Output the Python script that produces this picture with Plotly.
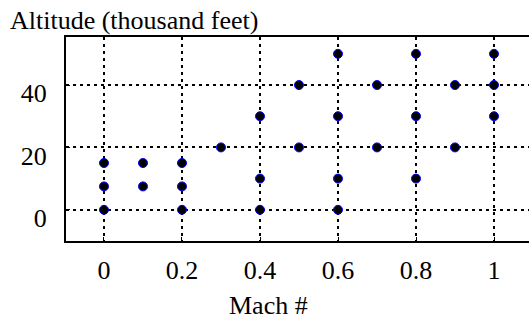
import plotly.graph_objects as go

mach = [0, 0, 0, 0.1, 0.1, 0.2, 0.2, 0.2, 0.3, 0.4, 0.4, 0.4, 0.5, 0.5,
        0.6, 0.6, 0.6, 0.6, 0.7, 0.7, 0.8, 0.8, 0.8, 0.9, 0.9, 1.0, 1.0, 1.0]
altitude = [0, 7.5, 15, 7.5, 15, 0, 7.5, 15, 20, 0, 10, 30, 20, 40,
            0, 10, 30, 50, 20, 40, 10, 30, 50, 20, 40, 30, 40, 50]
x_ticks = [0, 0.2, 0.4, 0.6, 0.8, 1]
x_labels = ["0", "0.2", "0.4", "0.6", "0.8", "1"]
y_ticks = [0, 20, 40]
y_labels = ["0", "20", "40"]

W, H = 529, 321
ML, MR, MT, MB = 66, 0, 37, 80

fig = go.Figure(go.Scatter(
    x=mach, y=altitude, mode="markers",
    marker=dict(color="black", size=9, line=dict(color="blue", width=1)),
))

fam = "Liberation Serif, Times New Roman, serif"
font = dict(family=fam, color="black", size=26)

axis_common = dict(
    showline=True, linecolor="black", linewidth=2, mirror=True,
    showgrid=True, gridcolor="black", gridwidth=2, griddash="3px,4px",
    zeroline=False, ticks="inside", ticklen=4, tickcolor="black", tickwidth=1,
    tickfont=font,
)

fig.update_xaxes(range=[-0.0974, 1.0897], tickvals=x_ticks, ticktext=x_labels,
                 ticklabelstandoff=5, **axis_common)
fig.update_yaxes(range=[-10, 55.4], tickvals=y_ticks, ticktext=y_labels,
                 ticklabelstandoff=12, ticklabelshift=8, **axis_common)

plot_w = W - ML - MR
plot_h = H - MT - MB

fig.update_layout(
    width=W, height=H,
    margin=dict(l=ML, r=MR, t=MT, b=MB, autoexpand=False),
    paper_bgcolor="white", plot_bgcolor="white",
    showlegend=False,
    font=font,
    annotations=[
        dict(text="Altitude (thousand feet)", xref="paper", yref="paper",
             x=(8 - ML) / plot_w, y=(H - MB - 20) / plot_h,
             xanchor="left", yanchor="middle", showarrow=False, font=font),
        dict(text="Mach #", xref="paper", yref="paper",
             x=(268 - ML) / plot_w, y=(H - MB - 305) / plot_h,
             xanchor="center", yanchor="middle", showarrow=False, font=font),
    ],
)

fig.write_html("out.html", config={"displayModeBar": False},
               post_script="document.body.style.margin='0px';")
